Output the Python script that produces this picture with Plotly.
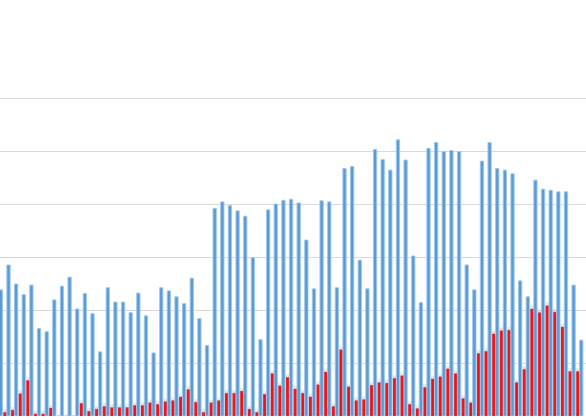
import plotly.graph_objects as go

# category index (77 groups, chart is cropped at both sides)
categories = list(range(77))

blue_values = [
    2.38, 2.85, 2.49, 2.29, 2.47, 1.65, 1.59, 2.19, 2.45, 2.62,
    2.02, 2.31, 1.93, 1.21, 2.42, 2.15, 2.15, 1.95, 2.32, 1.89,
    1.19, 2.42, 2.36, 2.25, 2.12, 2.60, 1.84, 1.33, 3.92, 4.04,
    3.97, 3.87, 3.77, 2.99, 1.44, 3.89, 4.00, 4.07, 4.09, 4.02,
    3.32, 2.40, 4.06, 4.04, 2.42, 4.67, 4.71, 2.94, 2.40, 5.03,
    4.84, 4.64, 5.21, 4.83, 3.02, 2.14, 5.05, 5.16, 4.99, 5.01,
    4.99, 2.85, 2.38, 4.81, 5.16, 4.67, 4.64, 4.57, 2.55, 2.25,
    4.45, 4.28, 4.26, 4.23, 4.23, 2.47, 1.43,
]

red_values = [
    0.10, 0.07, 0.11, 0.42, 0.67, 0.04, 0.04, 0.15, 0.00, 0.00,
    0.00, 0.24, 0.09, 0.13, 0.18, 0.16, 0.16, 0.16, 0.20, 0.20,
    0.25, 0.22, 0.27, 0.29, 0.36, 0.50, 0.26, 0.07, 0.25, 0.29,
    0.43, 0.43, 0.47, 0.13, 0.07, 0.41, 0.80, 0.57, 0.73, 0.51,
    0.43, 0.36, 0.59, 0.83, 0.18, 1.25, 0.55, 0.29, 0.31, 0.58,
    0.63, 0.62, 0.71, 0.76, 0.22, 0.14, 0.54, 0.70, 0.74, 0.89,
    0.80, 0.33, 0.25, 1.18, 1.22, 1.55, 1.61, 1.62, 0.63, 0.88,
    2.02, 1.95, 2.08, 1.96, 1.68, 0.84, 0.84,
]

grid_values = [0, 1, 2, 3, 4, 5, 6]

fig = go.Figure()

# soft shadow behind red bars
fig.add_trace(go.Bar(
    x=categories, y=[v + 0.06 if v > 0 else 0 for v in red_values],
    offset=-0.47, width=0.49,
    marker=dict(color="rgba(160,160,160,0.25)", line=dict(width=0)),
    hoverinfo="skip", showlegend=False,
))
fig.add_trace(go.Bar(
    x=categories, y=red_values,
    offset=-0.435, width=0.42,
    marker=dict(color="#F21414", line=dict(color="rgba(230,60,60,0.6)", width=0.6)),
    showlegend=False,
))
fig.add_trace(go.Bar(
    x=categories, y=blue_values,
    offset=0.0, width=0.435,
    marker=dict(color="#5B9BD5", line=dict(color="rgba(160,200,238,0.95)", width=1)),
    showlegend=False,
))

fig.update_layout(
    width=586, height=420,
    margin=dict(l=0, r=0, t=45, b=4),
    barmode="overlay",
    paper_bgcolor="white", plot_bgcolor="white",
    xaxis=dict(range=[0.105, 76.84], showticklabels=False, showgrid=False,
               zeroline=False, ticks=""),
    yaxis=dict(range=[0, 7], tickvals=grid_values, showticklabels=False,
               showgrid=True, gridcolor="#D9D9D9", gridwidth=1,
               zeroline=False, ticks=""),
)

fig.write_html(
    "out.html",
    config={"displayModeBar": False},
    post_script="document.body.style.margin='0';document.body.style.overflow='hidden';",
)
